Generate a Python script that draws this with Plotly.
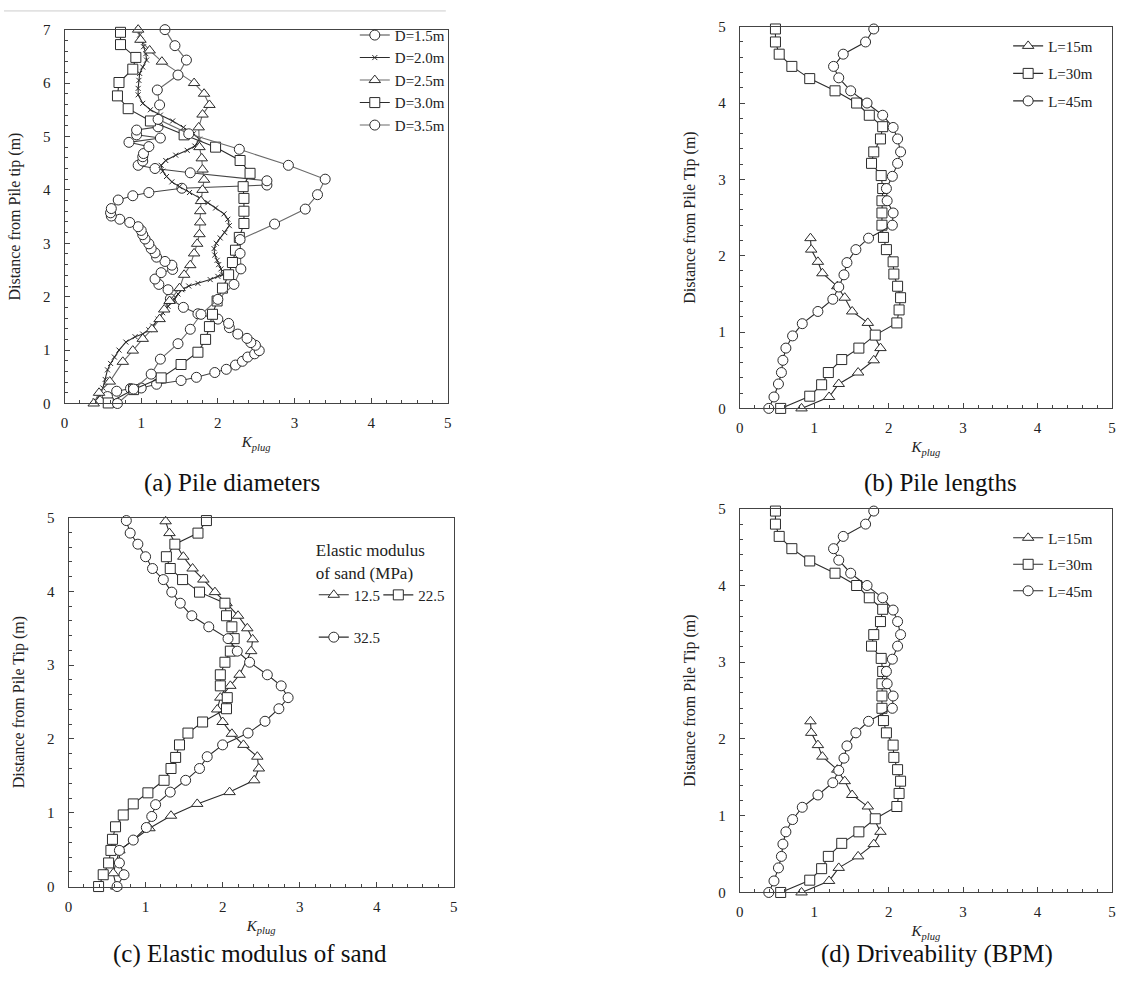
import plotly.graph_objects as go

# ---------------- (a) Pile diameters ----------------
a_d15_x = [0.56, 0.68, 0.86, 1.00, 1.20, 1.52, 1.72, 1.96, 2.11, 2.23, 2.32, 2.39, 2.48, 2.54, 2.49, 2.43, 2.38, 2.26, 2.15, 2.14, 2.00, 1.74,
           1.55, 1.38, 1.35, 1.23, 1.18, 1.26, 1.41, 1.40, 1.31, 1.20, 1.18, 1.13, 1.10, 1.05, 1.02, 1.00, 0.96, 0.85, 0.72, 0.61, 0.60, 0.61,
           0.70, 0.89, 1.10, 1.53, 2.64, 2.64, 1.64, 1.18, 0.96, 1.02, 1.02, 1.03, 1.10, 0.84, 1.25, 0.94, 0.94, 1.22]
a_d15_y = [0.13, 0.23, 0.28, 0.29, 0.36, 0.43, 0.49, 0.58, 0.64, 0.72, 0.79, 0.87, 0.93, 0.99, 1.09, 1.14, 1.22, 1.30, 1.42, 1.50, 1.58, 1.68,
           1.80, 1.96, 2.13, 2.23, 2.33, 2.45, 2.51, 2.59, 2.66, 2.74, 2.82, 2.90, 2.99, 3.08, 3.16, 3.24, 3.31, 3.39, 3.45, 3.51, 3.57, 3.65,
           3.81, 3.89, 3.95, 4.03, 4.09, 4.17, 4.32, 4.40, 4.46, 4.54, 4.62, 4.68, 4.81, 4.89, 4.97, 5.03, 5.12, 5.18]

a_d20_x = [0.40, 0.46, 0.50, 0.53, 0.56, 0.60, 0.65, 0.71, 0.80, 0.92, 1.02, 1.10, 1.15, 1.22, 1.28, 1.35, 1.43, 1.48, 1.53, 1.62, 1.74,
           1.90, 2.00, 2.06, 2.04, 2.01, 1.99, 1.96, 1.95, 1.98, 2.03, 2.09, 2.15, 2.13, 2.08, 1.97, 1.87, 1.76, 1.63, 1.50, 1.40, 1.33,
           1.28, 1.26, 1.32, 1.45, 1.60, 1.70, 1.76, 1.68, 1.55, 1.41, 1.25, 1.12, 1.02, 0.96, 0.96, 0.97, 0.98, 1.02, 1.07, 1.06, 1.03,
           1.00, 0.98, 0.96]
a_d20_y = [0.05, 0.15, 0.29, 0.45, 0.63, 0.75, 0.87, 1.00, 1.15, 1.25, 1.30, 1.38, 1.45, 1.58, 1.70, 1.82, 1.95, 2.05, 2.13, 2.20, 2.25,
           2.32, 2.38, 2.41, 2.52, 2.60, 2.68, 2.78, 2.90, 3.00, 3.10, 3.20, 3.33, 3.45, 3.55, 3.66, 3.76, 3.85, 3.95, 4.06, 4.15, 4.25,
           4.35, 4.46, 4.55, 4.65, 4.74, 4.82, 4.95, 5.05, 5.17, 5.29, 5.40, 5.50, 5.62, 5.78, 5.90, 6.05, 6.18, 6.30, 6.43, 6.55, 6.68,
           6.80, 6.90, 7.00]

a_d25_x = [0.38, 0.45, 0.59, 0.76, 0.89, 1.02, 1.14, 1.24, 1.30, 1.37, 1.50, 1.56, 1.64, 1.69, 1.73, 1.76, 1.77, 1.77, 1.78, 1.80, 1.82,
           1.80, 1.79, 1.76, 1.75, 1.80, 1.89, 1.82, 1.69, 1.27, 1.11, 0.99, 0.96]
a_d25_y = [0.00, 0.20, 0.41, 0.78, 0.99, 1.21, 1.39, 1.58, 1.76, 1.92, 2.16, 2.41, 2.59, 2.81, 2.99, 3.17, 3.39, 3.60, 3.79, 4.00, 4.19,
           4.38, 4.59, 4.80, 5.17, 5.41, 5.59, 5.80, 6.00, 6.40, 6.61, 6.81, 7.00]

a_d30_x = [0.57, 0.90, 1.26, 1.52, 1.74, 1.84, 1.89, 1.93, 1.99, 2.06, 2.14, 2.19, 2.23, 2.28, 2.34, 2.34, 2.34, 2.33, 2.42, 2.29, 1.97,
           1.56, 1.12, 0.83, 0.69, 0.71, 0.89, 0.93, 0.73, 0.73]
a_d30_y = [0.01, 0.26, 0.48, 0.73, 0.96, 1.20, 1.44, 1.67, 1.92, 2.16, 2.41, 2.64, 2.87, 3.11, 3.37, 3.60, 3.84, 4.06, 4.31, 4.55, 4.80,
           5.03, 5.29, 5.52, 5.76, 6.01, 6.26, 6.48, 6.72, 6.95]

a_d35_x = [0.69, 0.90, 1.13, 1.25, 1.48, 1.64, 1.78, 2.00, 2.21, 2.30, 2.29, 2.29, 2.74, 3.14, 3.30, 3.40, 2.92, 2.28, 1.62, 1.22, 1.24,
           1.21, 1.48, 1.59, 1.44, 1.31]
a_d35_y = [0.00, 0.27, 0.55, 0.83, 1.12, 1.39, 1.67, 1.95, 2.23, 2.52, 2.81, 3.07, 3.36, 3.64, 3.91, 4.20, 4.46, 4.76, 5.05, 5.32, 5.59,
           5.87, 6.15, 6.43, 6.70, 7.00]

# ---------------- (b) / (d) Pile lengths ----------------
b_l15_x = [0.83, 1.20, 1.33, 1.59, 1.80, 1.89, 1.72, 1.51, 1.41, 1.31, 1.11, 1.05, 0.96, 0.95]
b_l15_y = [0.00, 0.15, 0.32, 0.47, 0.63, 0.79, 1.12, 1.27, 1.45, 1.60, 1.77, 1.92, 2.08, 2.23]

b_l30_x = [0.55, 0.94, 1.10, 1.19, 1.37, 1.60, 1.82, 2.11, 2.14, 2.16, 2.12, 2.07, 2.06, 1.97, 1.93, 1.91, 1.91, 1.91, 1.92, 1.90, 1.77,
           1.80, 1.89, 1.92, 1.74, 1.57, 1.28, 0.94, 0.70, 0.53, 0.48, 0.48]
b_l30_y = [0.00, 0.16, 0.31, 0.47, 0.64, 0.79, 0.96, 1.12, 1.29, 1.45, 1.60, 1.76, 1.92, 2.08, 2.24, 2.40, 2.56, 2.72, 2.88, 3.05, 3.21,
           3.36, 3.53, 3.69, 3.84, 4.00, 4.16, 4.32, 4.48, 4.64, 4.80, 4.97]

b_l45_x = [0.39, 0.46, 0.52, 0.56, 0.58, 0.62, 0.71, 0.84, 1.05, 1.25, 1.33, 1.40, 1.44, 1.56, 1.73, 2.05, 2.06, 1.98, 1.97, 2.05, 2.12,
           2.16, 2.12, 2.06, 1.92, 1.71, 1.49, 1.33, 1.26, 1.39, 1.69, 1.80]
b_l45_y = [0.00, 0.15, 0.32, 0.47, 0.63, 0.79, 0.95, 1.11, 1.27, 1.43, 1.59, 1.75, 1.91, 2.08, 2.23, 2.40, 2.56, 2.72, 2.88, 3.04, 3.21,
           3.36, 3.53, 3.68, 3.84, 4.00, 4.16, 4.33, 4.48, 4.64, 4.80, 4.97]

# ---------------- (c) Elastic modulus of sand ----------------
c_e125_x = [0.62, 0.58, 0.66, 1.05, 1.33, 1.67, 2.09, 2.41, 2.47, 2.45, 2.27, 2.12, 2.00, 1.93, 1.97, 2.10, 2.22, 2.37, 2.39, 2.32, 2.20,
            2.05, 1.90, 1.75, 1.61, 1.49, 1.31, 1.26]
c_e125_y = [0.00, 0.18, 0.49, 0.79, 0.96, 1.12, 1.28, 1.44, 1.60, 1.76, 1.92, 2.07, 2.23, 2.40, 2.56, 2.72, 2.87, 3.19, 3.35, 3.50, 3.67,
            3.84, 3.99, 4.16, 4.31, 4.47, 4.79, 4.95]

c_e225_x = [0.39, 0.45, 0.52, 0.55, 0.57, 0.61, 0.71, 0.84, 1.03, 1.24, 1.33, 1.39, 1.44, 1.55, 1.74, 2.05, 2.06, 1.97, 1.97, 2.03, 2.10,
            2.15, 2.12, 2.05, 2.03, 1.70, 1.48, 1.32, 1.27, 1.38, 1.68, 1.79]
c_e225_y = [0.00, 0.16, 0.32, 0.49, 0.64, 0.81, 0.97, 1.12, 1.27, 1.44, 1.60, 1.75, 1.92, 2.08, 2.23, 2.41, 2.56, 2.72, 2.87, 3.04, 3.19,
            3.36, 3.52, 3.67, 3.84, 3.99, 4.16, 4.31, 4.47, 4.64, 4.79, 4.96]

c_e325_x = [0.63, 0.72, 0.66, 0.66, 0.84, 1.01, 1.08, 1.13, 1.32, 1.52, 1.70, 1.80, 2.00, 2.33, 2.55, 2.73, 2.85, 2.76, 2.58, 2.35, 2.19,
            2.07, 1.82, 1.60, 1.45, 1.34, 1.23, 1.09, 1.00, 0.90, 0.80, 0.75]
c_e325_y = [0.00, 0.16, 0.32, 0.49, 0.63, 0.80, 0.95, 1.11, 1.28, 1.44, 1.60, 1.76, 1.92, 2.08, 2.24, 2.41, 2.56, 2.72, 2.87, 3.04, 3.19,
            3.36, 3.52, 3.67, 3.84, 3.99, 4.16, 4.31, 4.47, 4.64, 4.79, 4.96]

FONT = "Liberation Serif"
W, H = 1123, 989
DARK = "#2b2b2b"
GRAY = "#6a6a6a"


def px_x(p):
    return p / W


def px_y(p):
    return 1 - p / H


fig = go.Figure()

MK = dict(
    circle=dict(symbol="circle", size=10),
    x=dict(symbol="x-thin", size=5),
    triangle=dict(symbol="triangle-up", size=10),
    square=dict(symbol="square", size=10),
)


def add(xv, yv, name, kind, lc, xa, ya, legend, group):
    m = dict(MK[kind])
    if kind == "x":
        m.update(color=lc, line=dict(color=lc, width=1))
    else:
        m.update(color="white", line=dict(color=DARK, width=1))
    fig.add_trace(go.Scatter(
        x=xv, y=yv, name=name, mode="lines+markers",
        line=dict(color=lc, width=1.1), marker=m,
        xaxis=xa, yaxis=ya, legend=legend, legendgroup=group,
        cliponaxis=False,
    ))


# (a)
add(a_d15_x, a_d15_y, "D=1.5m", "circle", "#444444", "x", "y", "legend", "a1")
add(a_d20_x, a_d20_y, "D=2.0m", "x", DARK, "x", "y", "legend", "a2")
add(a_d25_x, a_d25_y, "D=2.5m", "triangle", GRAY, "x", "y", "legend", "a3")
add(a_d30_x, a_d30_y, "D=3.0m", "square", DARK, "x", "y", "legend", "a4")
add(a_d35_x, a_d35_y, "D=3.5m", "circle", GRAY, "x", "y", "legend", "a5")
# (b)
add(b_l15_x, b_l15_y, "L=15m", "triangle", DARK, "x2", "y2", "legend2", "b1")
add(b_l30_x, b_l30_y, "L=30m", "square", DARK, "x2", "y2", "legend2", "b2")
add(b_l45_x, b_l45_y, "L=45m", "circle", DARK, "x2", "y2", "legend2", "b3")
# (c)
add(c_e125_x, c_e125_y, "12.5", "triangle", DARK, "x3", "y3", "legend3", "c1")
add(c_e225_x, c_e225_y, "22.5", "square", DARK, "x3", "y3", "legend6", "c2")
add(c_e325_x, c_e325_y, "32.5", "circle", DARK, "x3", "y3", "legend5", "c3")
# (d)
add(b_l15_x, b_l15_y, "L=15m", "triangle", DARK, "x4", "y4", "legend4", "d1")
add(b_l30_x, b_l30_y, "L=30m", "square", DARK, "x4", "y4", "legend4", "d2")
add(b_l45_x, b_l45_y, "L=45m", "circle", DARK, "x4", "y4", "legend4", "d3")

# panel pixel boxes: (left, right, top, bottom)
boxes = {
    "1": (61, 447, 22, 402),
    "2": (741, 1116, 19, 407),
    "3": (65, 453, 518, 893),
    "4": (741, 1116, 509, 899),
}
ytitles = {
    "1": "Distance from Pile tip (m)",
    "2": "Distance from Pile Tip (m)",
    "3": "Distance from Pile Tip (m)",
    "4": "Distance from Pile Tip (m)",
}
ymax = {"1": 7, "2": 5, "3": 5, "4": 5}

layout = dict(
    width=W, height=H, margin=dict(l=0, r=0, t=0, b=0),
    paper_bgcolor="white", plot_bgcolor="white",
    font=dict(family=FONT, size=15, color="#222"),
)
for k, (l, r, t, b) in boxes.items():
    sx = "" if k == "1" else k
    common = dict(
        showline=True, linecolor="#444", linewidth=1, mirror=True,
        ticks="inside", ticklen=5, tickcolor="#444", tickwidth=1,
        showgrid=False, zeroline=False,
        minor=dict(ticks="inside", ticklen=3, tickcolor="#444", dtick=0.2),
        tickfont=dict(family=FONT, size=15, color="#222"),
    )
    layout["xaxis" + sx] = dict(
        common, domain=[px_x(l), px_x(r)], range=[0, 5], dtick=1,
        anchor="y" + sx, ticklabelstandoff=6,
        title=dict(text="<i>K</i><sub><i>plug</i></sub>", standoff=6,
                   font=dict(family=FONT, size=15)),
    )
    layout["yaxis" + sx] = dict(
        common, domain=[px_y(b), px_y(t)], range=[0, ymax[k]], dtick=1,
        anchor="x" + sx, ticklabelstandoff=10,
        title=dict(text=ytitles[k], standoff=18, font=dict(family=FONT, size=16)),
    )

leg_common = dict(bgcolor="rgba(0,0,0,0)", borderwidth=0,
                  font=dict(family=FONT, size=15, color="#222"),
                  itemwidth=30)
layout["legend"] = dict(leg_common, x=px_x(450), xanchor="right", y=px_y(11), yanchor="top",
                        tracegroupgap=0)
layout["legend2"] = dict(leg_common, x=px_x(1102), xanchor="right", y=px_y(22), yanchor="top",
                         tracegroupgap=5)
layout["legend4"] = dict(leg_common, x=px_x(1102), xanchor="right", y=px_y(522), yanchor="top",
                         tracegroupgap=4)
layout["legend3"] = dict(leg_common, x=px_x(312), xanchor="left", y=px_y(535), yanchor="top",
                         title=dict(text="Elastic modulus<br>of sand (MPa)", side="top",
                                    font=dict(family=FONT, size=17)))
layout["legend6"] = dict(leg_common, x=px_x(377), xanchor="left", y=px_y(580), yanchor="top")
layout["legend5"] = dict(leg_common, x=px_x(312), xanchor="left", y=px_y(623), yanchor="top")

fig.update_layout(**layout)

captions = [
    ("(a) Pile diameters", 230, 483),
    ("(b) Pile lengths", 943, 483),
    ("(c) Elastic modulus of sand", 248, 962),
    ("(d) Driveability (BPM)", 940, 962),
]
for text, cx, cy in captions:
    fig.add_annotation(text=text, x=px_x(cx), y=px_y(cy), xref="paper", yref="paper",
                       showarrow=False, xanchor="center", yanchor="middle",
                       font=dict(family=FONT, size=25, color="#111"))

fig.add_shape(type="line", xref="paper", yref="paper", x0=0, x1=px_x(445),
              y0=px_y(3), y1=px_y(3), line=dict(color="#cccccc", width=1))

fig.write_html("out.html")
